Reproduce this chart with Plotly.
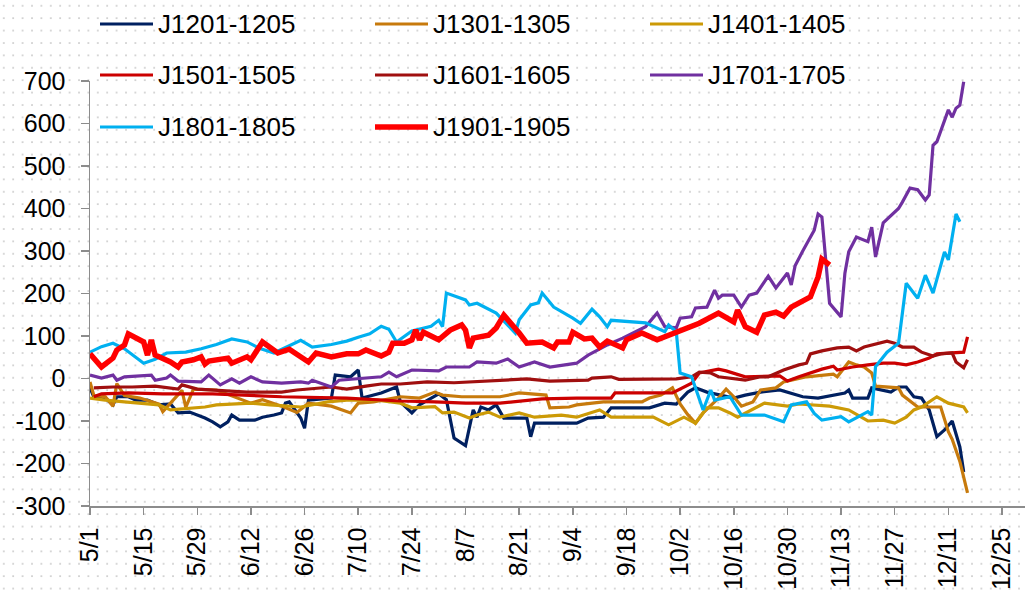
import base64
import plotly.graph_objects as go

YEAR = 2018

# ---------------- data ----------------
series_names = ["J1201-1205", "J1301-1305", "J1401-1405", "J1501-1505",
                "J1601-1605", "J1701-1705", "J1801-1805", "J1901-1905"]

j1201_dates = ["5/1","5/2","5/5","5/7","5/8","5/11","5/13","5/16","5/19","5/22","5/24","5/27","5/31","6/2","6/4",
               "6/6","6/7","6/9","6/13","6/15","6/18","6/20","6/21","6/22","6/25","6/26","6/27","7/3","7/4","7/8",
               "7/10","7/11","7/16","7/18","7/20","7/21","7/24","7/26","7/31","8/2","8/4","8/7","8/9","8/10","8/11",
               "8/13","8/15","8/17","8/23","8/24","8/25","8/29","9/5","9/8","9/12","9/14","9/24","9/28","10/1","10/4",
               "10/6","10/9","10/13","10/16","10/19","10/23","10/28","11/3","11/7","11/14","11/15","11/16","11/20","11/21","11/26",
               "11/28","11/30","12/2","12/4","12/6","12/8","12/10","12/12","12/14","12/15"]
j1201_values = [-22,-43,-46,-62,-43,-43,-51,-51,-62,-60,-81,-79,-93,-102,-114,
                -102,-86,-98,-98,-91,-86,-81,-58,-55,-93,-117,-51,-46,8,4,
                20,-46,-34,-27,-20,-55,-81,-62,-36,-50,-140,-158,-74,-91,-67,
                -74,-62,-93,-93,-137,-105,-105,-105,-93,-91,-69,-69,-58,-60,-32,
                -22,-32,-39,-46,-39,-32,-27,-43,-46,-34,-27,-46,-46,-22,-32,
                -20,-20,-43,-46,-74,-137,-121,-100,-161,-220]

j1301_dates = ["5/1","5/2","5/5","5/7","5/8","5/10","5/14","5/19","5/20","5/22","5/25","5/26","5/28","6/3","6/7",
               "6/12","6/15","6/20","6/24","6/27","7/3","7/8","7/10","7/14","7/21","7/26","7/30","8/1","8/6","8/16",
               "8/21","8/28","8/29","9/3","9/5","9/12","9/22","9/24","9/27","9/30","10/2","10/4","10/6","10/8","10/12",
               "10/14","10/16","10/18","10/21","10/23","10/27","10/29","11/4","11/11","11/12","11/15","11/17","11/19","11/21","11/22",
               "11/28","11/29","12/3","12/9","12/11","12/12","12/14","12/16"]
j1301_values = [-8,-40,-43,-65,-12,-40,-46,-60,-78,-58,-28,-68,-25,-27,-40,
                -58,-50,-65,-80,-58,-65,-81,-58,-55,-43,-46,-32,-39,-43,-43,
                -34,-39,-69,-67,-62,-55,-55,-46,-39,-22,-60,-85,-105,-81,-46,
                -25,-43,-65,-55,-27,-22,-8,4,10,4,39,32,27,13,-18,
                -22,-39,-67,-67,-125,-143,-195,-269]

j1401_dates = ["5/1","5/5","5/10","5/14","5/19","5/22","5/31","6/3","6/12","6/17","6/25","7/2","7/7","7/15","7/21",
               "7/24","7/30","8/1","8/4","8/8","8/10","8/13","8/16","8/21","8/25","9/1","9/5","9/11","9/14","9/25",
               "9/29","10/3","10/6","10/9","10/12","10/15","10/17","10/24","10/30","11/2","11/10","11/15","11/20","11/24","11/27",
               "11/30","12/2","12/4","12/8","12/11","12/15","12/16"]
j1401_values = [-46,-51,-55,-58,-62,-74,-67,-62,-58,-62,-67,-55,-51,-51,-58,
                -69,-66,-81,-79,-93,-86,-79,-91,-81,-91,-86,-91,-74,-91,-91,
                -109,-91,-105,-69,-69,-81,-91,-58,-65,-60,-65,-74,-100,-98,-105,
                -91,-74,-67,-43,-58,-67,-81]

j1501_dates = ["5/2","5/4","5/11","5/20","6/2","6/11","6/20","7/7","7/21","7/30","8/7","8/16","8/19","8/27","9/5",
               "9/14","9/15","9/30","10/5","10/7","10/12","10/14","10/19","10/28","10/30","11/2","11/8","11/11","11/12","11/16",
               "11/20","11/24","11/27","11/30","12/3","12/6","12/8","12/15","12/16"]
j1501_values = [-43,-36,-34,-36,-36,-39,-43,-46,-53,-55,-58,-58,-55,-48,-46,
                -46,-34,-34,-11,13,22,18,4,6,-6,4,22,29,20,27,
                32,36,36,32,39,48,58,62,98]

j1601_dates = ["5/2","5/7","5/12","5/18","5/24","5/25","5/29","6/2","6/11","6/20","6/24","7/3","7/7","7/12","7/16",
               "7/21","7/28","8/4","8/11","8/16","8/23","8/29","9/8","9/9","9/14","9/16","10/1","10/5","10/7","10/10",
               "10/12","10/19","10/23","10/25","10/29","11/2","11/4","11/5","11/8","11/12","11/15","11/17","11/19","11/25","11/27",
               "11/29","12/2","12/4","12/7","12/9","12/12","12/13","12/15","12/16"]
j1601_values = [-22,-20,-20,-18,-25,-15,-25,-27,-32,-32,-27,-20,-25,-18,-13,
                -13,-8,-10,-6,-4,-1,-6,-4,1,4,-2,-1,4,15,13,
                4,-4,4,4,20,32,36,58,65,72,74,65,74,88,83,
                74,74,62,53,58,60,39,25,44]

j1701_dates = ["5/1","5/4","5/7","5/8","5/10","5/15","5/17","5/18","5/21","5/22","5/24","5/30","6/1","6/4","6/7",
               "6/9","6/12","6/15","6/20","6/25","6/27","6/28","7/3","7/5","7/10","7/13","7/16","7/18","7/20","7/24",
               "7/31","8/2","8/8","8/10","8/15","8/18","8/21","8/25","8/29","9/5","9/8","9/13","9/17","9/23","9/26",
               "9/28","10/1","10/2","10/5","10/6","10/9","10/11","10/12","10/13","10/16","10/18","10/20","10/22","10/25","10/27",
               "10/30","10/31","11/1","11/3","11/6","11/7","11/8","11/10","11/13","11/14","11/15","11/17","11/20","11/21","11/22",
               "11/24","11/27","11/28","11/29","12/1","12/3","12/5","12/6","12/7","12/8","12/11","12/12","12/13","12/14","12/15"]
j1701_values = [8,1,8,-4,4,6,8,-4,1,8,-6,-8,8,-15,-1,
                -11,4,-8,-11,-8,-11,-4,-20,-4,-1,1,4,15,4,20,
                18,27,27,39,36,46,27,39,27,36,55,79,95,122,154,
                122,119,142,145,166,168,208,189,196,196,168,196,201,241,213,
                248,220,265,300,349,387,380,177,145,248,298,333,322,356,286,
                366,393,400,415,448,444,420,432,549,557,632,615,636,643,698]

j1801_dates = ["5/1","5/4","5/7","5/10","5/15","5/18","5/21","5/26","5/30","6/3","6/7","6/11","6/14","6/18","6/25",
               "6/28","7/3","7/7","7/10","7/13","7/16","7/18","7/20","7/24","7/29","7/31","8/1","8/2","8/7","8/8",
               "8/10","8/15","8/20","8/21","8/24","8/26","8/27","8/30","9/4","9/6","9/9","9/11","9/13","9/14","9/23",
               "9/28","9/29","10/1","10/2","10/5","10/8","10/10","10/11","10/15","10/18","10/24","10/29","10/31","11/4","11/6",
               "11/8","11/13","11/15","11/20","11/21","11/22","11/25","11/28","11/30","12/3","12/5","12/7","12/10","12/11","12/13",
               "12/14"]
j1801_values = [62,75,83,70,36,45,60,62,70,80,93,86,72,60,90,
                74,80,88,97,105,123,116,86,112,123,137,122,201,185,173,
                177,154,107,138,173,178,201,168,142,130,163,145,122,137,131,
                110,126,110,13,4,-74,-27,-51,-43,-86,-86,-102,-62,-55,-82,
                -98,-90,-102,-78,-86,28,62,83,224,189,243,201,298,279,387,
                369]

j1901_dates = ["5/1","5/4","5/7","5/8","5/10","5/11","5/15","5/16","5/17","5/18","5/19","5/22","5/24","5/25","5/28",
               "5/30","5/31","6/1","6/6","6/7","6/11","6/12","6/15","6/16","6/19","6/22","6/27","6/29","7/3","7/7",
               "7/10","7/12","7/14","7/16","7/18","7/19","7/22","7/24","7/25","7/26","7/27","7/31","8/3","8/6","8/7",
               "8/8","8/9","8/13","8/15","8/17","8/21","8/23","8/27","8/30","8/31","9/3","9/4","9/7","9/9","9/11",
               "9/13","9/17","9/18","9/22","9/26","9/29","10/7","10/12","10/16","10/17","10/19","10/22","10/24","10/27","10/29",
               "10/31","11/2","11/5","11/7","11/8","11/10"]
j1901_values = [58,27,48,67,79,105,86,55,91,55,51,39,27,39,44,
                51,34,41,48,36,51,44,86,79,60,69,39,60,51,58,
                58,67,60,53,62,83,83,91,114,91,109,91,114,126,114,
                72,95,102,119,149,107,83,86,72,86,86,109,93,95,74,
                88,72,91,107,91,102,130,154,133,161,122,109,149,156,147,
                168,177,192,239,281,267]

tick_labels = ["5/1","5/15","5/29","6/12","6/26","7/10","7/24","8/7","8/21","9/4",
               "9/18","10/2","10/16","10/30","11/13","11/27","12/11","12/25"]
y_ticks = [-300,-200,-100,0,100,200,300,400,500,600,700]

# ---------------- styling ----------------
colors = ["#002060", "#C77A0C", "#CC9A06", "#CC0000",
          "#A00F0F", "#7030A0", "#00B0F0", "#FF0000"]
widths = [3.2, 3.2, 3.2, 3.2, 3.2, 3.2, 3.2, 5.5]
FONT = "Liberation Sans, Arial, sans-serif"

W, H = 1025, 590
ML, MR, MT, MB = 90, 0, 81, 84
PW, PH = W - ML - MR, H - MT - MB


def to_date(md):
    m, d = md.split("/")
    return f"{YEAR}-{int(m):02d}-{int(d):02d}"


all_dates = [j1201_dates, j1301_dates, j1401_dates, j1501_dates,
             j1601_dates, j1701_dates, j1801_dates, j1901_dates]
all_values = [j1201_values, j1301_values, j1401_values, j1501_values,
              j1601_values, j1701_values, j1801_values, j1901_values]

fig = go.Figure()
for name, ds, vs, c, w in zip(series_names, all_dates, all_values, colors, widths):
    fig.add_trace(go.Scatter(x=[to_date(d) for d in ds], y=vs, mode="lines", name=name,
                             line=dict(color=c, width=w), showlegend=False))

# ---------------- manual legend (3 columns x 3 rows) ----------------
def px_x(p):
    return (p - ML) / PW


def px_y(p):
    return (MT + PH - p) / PH


col_x = [100, 375, 650]
row_y = [24, 75, 127]
shapes, annotations = [], []
for i, (name, c, w) in enumerate(zip(series_names, colors, widths)):
    r, k = divmod(i, 3)
    x0 = col_x[k]
    y0 = row_y[r]
    shapes.append(dict(type="line", xref="paper", yref="paper",
                       x0=px_x(x0), x1=px_x(x0 + 53), y0=px_y(y0), y1=px_y(y0),
                       line=dict(color=c, width=w)))
    annotations.append(dict(xref="paper", yref="paper", x=px_x(x0 + 56), y=px_y(y0),
                            xanchor="left", yanchor="middle", text=name, showarrow=False,
                            font=dict(family=FONT, size=26, color="black")))

# ---------------- dotted background pattern ----------------
svg = (f'<svg xmlns="http://www.w3.org/2000/svg" width="{W}" height="{H}">'
       '<defs><pattern id="p" x="0" y="0" width="9.4" height="12.4" patternUnits="userSpaceOnUse">'
       '<rect x="3" y="5" width="1.6" height="1.6" fill="#c6c6c6"/></pattern></defs>'
       f'<rect width="{W}" height="{H}" fill="white"/>'
       f'<rect width="{W}" height="{H}" fill="url(#p)"/></svg>')
src = "data:image/svg+xml;base64," + base64.b64encode(svg.encode()).decode()

fig.update_layout(
    width=W, height=H,
    margin=dict(l=ML, r=MR, t=MT, b=MB, pad=0, autoexpand=False),
    paper_bgcolor="white",
    plot_bgcolor="rgba(0,0,0,0)",
    font=dict(family=FONT, size=25, color="black"),
    hovermode=False,
    shapes=shapes,
    annotations=annotations,
    images=[dict(source=src, xref="paper", yref="paper",
                 x=-ML / PW, y=(MT + PH) / PH, sizex=W / PW, sizey=H / PH,
                 xanchor="left", yanchor="top", sizing="stretch", layer="below")],
    xaxis=dict(
        type="date",
        automargin=False,
        range=[f"{YEAR}-05-01", f"{YEAR}-12-31"],
        tickvals=[to_date(t) for t in tick_labels],
        ticktext=tick_labels,
        tickangle=-90,
        ticks="outside", ticklen=7, tickwidth=1.5, tickcolor="#8c8c8c",
        showline=True, linecolor="#8c8c8c", linewidth=1.5,
        showgrid=False, zeroline=False,
        tickfont=dict(family=FONT, size=25, color="black"),
        ticklabelstandoff=3,
    ),
    yaxis=dict(
        automargin=False,
        range=[-300, 700],
        tickvals=y_ticks,
        ticktext=[str(v) for v in y_ticks],
        ticks="outside", ticklen=8, tickwidth=1.5, tickcolor="#8c8c8c",
        showline=True, linecolor="#8c8c8c", linewidth=1.5,
        showgrid=False, zeroline=False,
        tickfont=dict(family=FONT, size=25, color="black"),
        ticklabelstandoff=10,
    ),
)

fig.write_html("out.html",
               config={"displayModeBar": False, "staticPlot": True},
               post_script="document.body.style.margin='0';document.body.style.overflow='hidden';")
